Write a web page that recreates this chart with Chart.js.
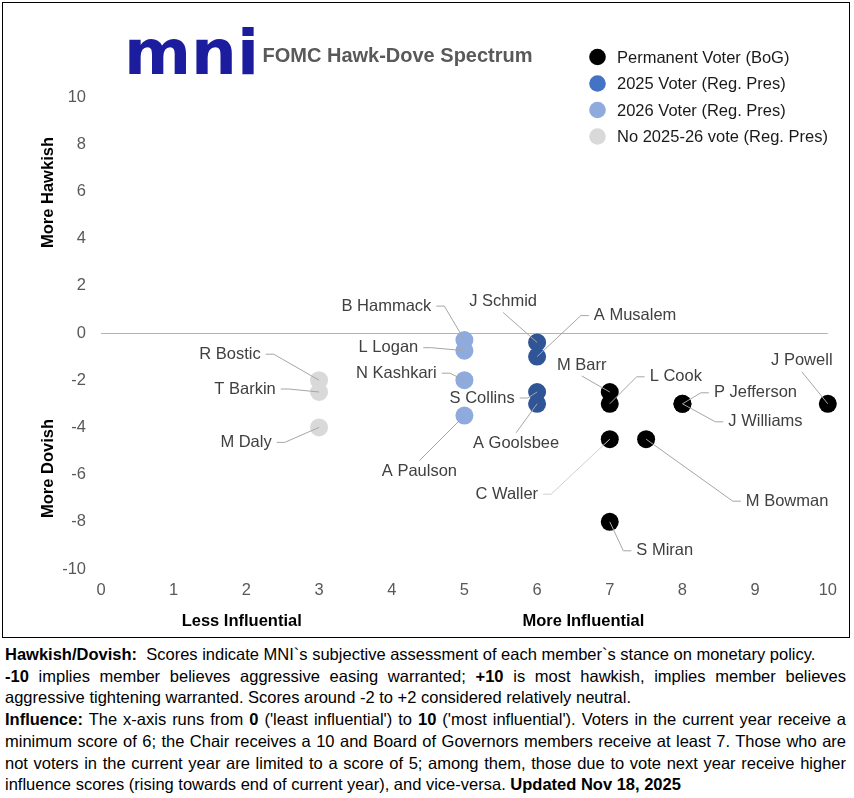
<!DOCTYPE html>
<html>
<head>
<meta charset="utf-8">
<script src="https://cdn.jsdelivr.net/npm/chart.js@4.4.1/dist/chart.umd.min.js"></script>
<style>
body{margin:0;background:#fff;font-family:"Liberation Sans",Arial,sans-serif}
#frame{position:absolute;left:2px;top:2px;width:848px;height:636px;border:1px solid #000;box-sizing:border-box}
#notes{position:absolute;left:5px;top:644px;width:841px;font-size:16.5px;line-height:21.7px;color:#000}
#notes .j{text-align:justify;text-align-last:justify}
</style>
</head>
<body>
<div id="frame"><canvas id="spectrum"></canvas></div>
<div id="notes">
<div><b>Hawkish/Dovish:</b>&nbsp; Scores indicate MNI`s subjective assessment of each member`s stance on monetary policy.</div>
<div class="j"><b>-10</b> implies member believes aggressive easing warranted; <b>+10</b> is most hawkish, implies member believes</div>
<div>aggressive tightening warranted. Scores around -2 to +2 considered relatively neutral.</div>
<div class="j"><b>Influence:</b> The x-axis runs from <b>0</b> ('least influential') to <b>10</b> ('most influential'). Voters in the current year receive a</div>
<div class="j">minimum score of 6; the Chair receives a 10 and Board of Governors members receive at least 7. Those who are</div>
<div class="j">not voters in the current year are limited to a score of 5; among them, those due to vote next year receive higher</div>
<div>influence scores (rising towards end of current year), and vice-versa. <b>Updated Nov 18, 2025</b></div>
</div>
<script>
// members
const names = ['J Powell','P Jefferson','J Williams','M Barr','L Cook','C Waller','M Bowman','S Miran',
    'J Schmid','A Musalem','S Collins','A Goolsbee',
    'B Hammack','L Logan','N Kashkari','A Paulson',
    'R Bostic','T Barkin','M Daly']
const influence = [10, 8, 8, 7, 7, 7, 7.5, 7, 6, 6, 6, 6, 5, 5, 5, 5, 3, 3, 3]
const stance = [-3, -3, -3, -2.5, -3, -4.5, -4.5, -8, -0.4, -1, -2.5, -3, -0.3, -0.75, -2, -3.5, -2, -2.5, -4]
const group = [0, 0, 0, 0, 0, 0, 0, 0, 1, 1, 1, 1, 2, 2, 2, 2, 3, 3, 3]
const groupNames = ['Permanent Voter (BoG)', '2025 Voter (Reg. Pres)', '2026 Voter (Reg. Pres)', 'No 2025-26 vote (Reg. Pres)']
const xTicks = [0, 1, 2, 3, 4, 5, 6, 7, 8, 9, 10]
const yTicks = [-10, -8, -6, -4, -2, 0, 2, 4, 6, 8, 10]

const pointColors = ['#000000', '#2F5597', '#8FAADC', '#D9D9D9']
const legendColors = ['#000000', '#4472C4', '#8FAADC', '#D9D9D9']

// label offset from its point (px) and the side the leader line leaves from
const labelLayout = {
    'J Powell': [-26, -43, 'b'], 'P Jefferson': [73, -11, 'l'], 'J Williams': [83, 18, 'l'],
    'M Barr': [-28, -27, 'b'], 'L Cook': [66, -27, 'l'], 'C Waller': [-103, 55, 'r'],
    'M Bowman': [141, 62, 'l'], 'S Miran': [55, 29, 'l'], 'J Schmid': [-34, -41, 'b'],
    'A Musalem': [98, -41, 'l'], 'S Collins': [-55, 6, 'r'], 'A Goolsbee': [-21, 40, 't'],
    'B Hammack': [-78, -34, 'r'], 'L Logan': [-76, -3, 'r'], 'N Kashkari': [-68, -7, 'r'],
    'A Paulson': [-45, 56, 't'], 'R Bostic': [-89, -26, 'r'], 'T Barkin': [-74, -3, 'r'],
    'M Daly': [-73, 15, 'r']
}

const FONT = '"Liberation Sans", Arial, sans-serif'
// page coords -> canvas coords (frame at 2px + 1px border)
const P = (x, y) => [x - 3, y - 3]

function buildDatasets(){
    return groupNames.map((label, g) => ({
        label: label,
        data: names.map((n, i) => ({x: influence[i], y: stance[i], name: n}))
                   .filter((d, i) => group[i] === g),
        backgroundColor: pointColors[g],
        borderWidth: 0,
        pointRadius: 9,
        pointHoverRadius: 9,
        clip: false
    }))
}

const decorations = {
    id: 'decorations',
    afterDatasetsDraw(chart){
        const ctx = chart.ctx
        ctx.save()
        // leader lines + member labels
        ctx.font = '16.5px ' + FONT
        ctx.textBaseline = 'middle'
        ctx.textAlign = 'center'
        chart.data.datasets.forEach((ds, di) => {
            const meta = chart.getDatasetMeta(di)
            ds.data.forEach((d, j) => {
                const el = meta.data[j]
                const lay = labelLayout[d.name]
                const cx = el.x + lay[0], cy = el.y + lay[1]
                const w = ctx.measureText(d.name).width
                let pts
                if (lay[2] === 'r') pts = [[cx + w/2 + 5, cy], [cx + w/2 + 13, cy]]
                else if (lay[2] === 'l') pts = [[cx - w/2 - 5, cy], [cx - w/2 - 13, cy]]
                else if (lay[2] === 'b') pts = [[cx, cy + 11]]
                else pts = [[cx, cy - 11]]
                ctx.strokeStyle = d.name === 'C Waller' ? '#CFCFCF' : '#A6A6A6'
                ctx.lineWidth = 1
                ctx.beginPath()
                ctx.moveTo(pts[0][0], pts[0][1])
                pts.slice(1).forEach(p => ctx.lineTo(p[0], p[1]))
                ctx.lineTo(el.x, el.y)
                ctx.stroke()
                ctx.fillStyle = '#404040'
                ctx.fillText(d.name, cx, cy)
            })
        })

        // logo
        ctx.fillStyle = '#1C1C9E'
        ctx.textAlign = 'left'
        ctx.textBaseline = 'alphabetic'
        ctx.font = 'bold 64px "DejaVu Sans", sans-serif'
        const lm = ctx.measureText('mni')
        const xh = ctx.measureText('n').actualBoundingBoxAscent
        const sy = 35 / xh
        const sx = 125 / (lm.actualBoundingBoxRight + lm.actualBoundingBoxLeft)
        let [lx, ly] = P(129, 74)
        ctx.save()
        ctx.translate(lx, ly)
        ctx.scale(sx, sy)
        ctx.fillText('mni', lm.actualBoundingBoxLeft, 0)
        ctx.restore()

        // title
        ctx.fillStyle = '#595959'
        ctx.font = 'bold 20px ' + FONT
        let [tx, ty] = P(262.5, 61.7)
        ctx.fillText('FOMC Hawk-Dove Spectrum', tx, ty)

        // legend
        const rows = [57, 83.5, 110, 136.5]
        ctx.font = '16.5px ' + FONT
        ctx.textBaseline = 'middle'
        chart.data.datasets.forEach((ds, g) => {
            let [cx, cy] = P(597.5, rows[g])
            ctx.fillStyle = legendColors[g]
            ctx.beginPath()
            ctx.arc(cx, cy, 8.3, 0, Math.PI * 2)
            ctx.fill()
            ctx.fillStyle = '#1A1A1A'
            ctx.fillText(ds.label, cx + 19.5, cy + 1)
        })

        // axis captions
        ctx.fillStyle = '#000'
        ctx.font = 'bold 16.5px ' + FONT
        ctx.textAlign = 'center'
        const vert = (txt, y) => {
            let [ax, ay] = P(48, y)
            ctx.save()
            ctx.translate(ax, ay)
            ctx.rotate(-Math.PI / 2)
            ctx.fillText(txt, 0, 0)
            ctx.restore()
        }
        vert('More Hawkish', 192.5)
        vert('More Dovish', 468.5)
        let [a1x, a1y] = P(241.7, 621)
        ctx.fillText('Less Influential', a1x, a1y)
        let [a2x, a2y] = P(583.4, 621)
        ctx.fillText('More Influential', a2x, a2y)
        ctx.restore()
    }
}

new Chart(document.getElementById('spectrum'), {
    type: 'scatter',
    data: {datasets: buildDatasets()},
    options: {
        responsive: true,
        maintainAspectRatio: false,
        animation: false,
        layout: {padding: {top: 94, right: 20, left: 0, bottom: 0}},
        plugins: {
            legend: {display: false},
            tooltip: {enabled: false}
        },
        scales: {
            x: {
                type: 'linear',
                min: xTicks[0],
                max: xTicks[xTicks.length - 1],
                afterBuildTicks: (s) => { s.ticks = xTicks.map(v => ({value: v})) },
                afterFit: (s) => { s.height = 68 },
                grid: {display: false, drawTicks: false},
                border: {display: false},
                ticks: {color: '#595959', font: {family: FONT, size: 16.5}, padding: 12}
            },
            y: {
                type: 'linear',
                min: yTicks[0],
                max: yTicks[yTicks.length - 1],
                afterBuildTicks: (s) => { s.ticks = yTicks.map(v => ({value: v})) },
                afterFit: (s) => { s.width = 98 },
                grid: {
                    drawTicks: false,
                    color: (c) => c.tick && c.tick.value === 0 ? '#B4B4B4' : 'rgba(0,0,0,0)'
                },
                border: {display: false},
                ticks: {color: '#595959', font: {family: FONT, size: 16.5}, padding: 15}
            }
        }
    },
    plugins: [decorations]
})
</script>
</body>
</html>
